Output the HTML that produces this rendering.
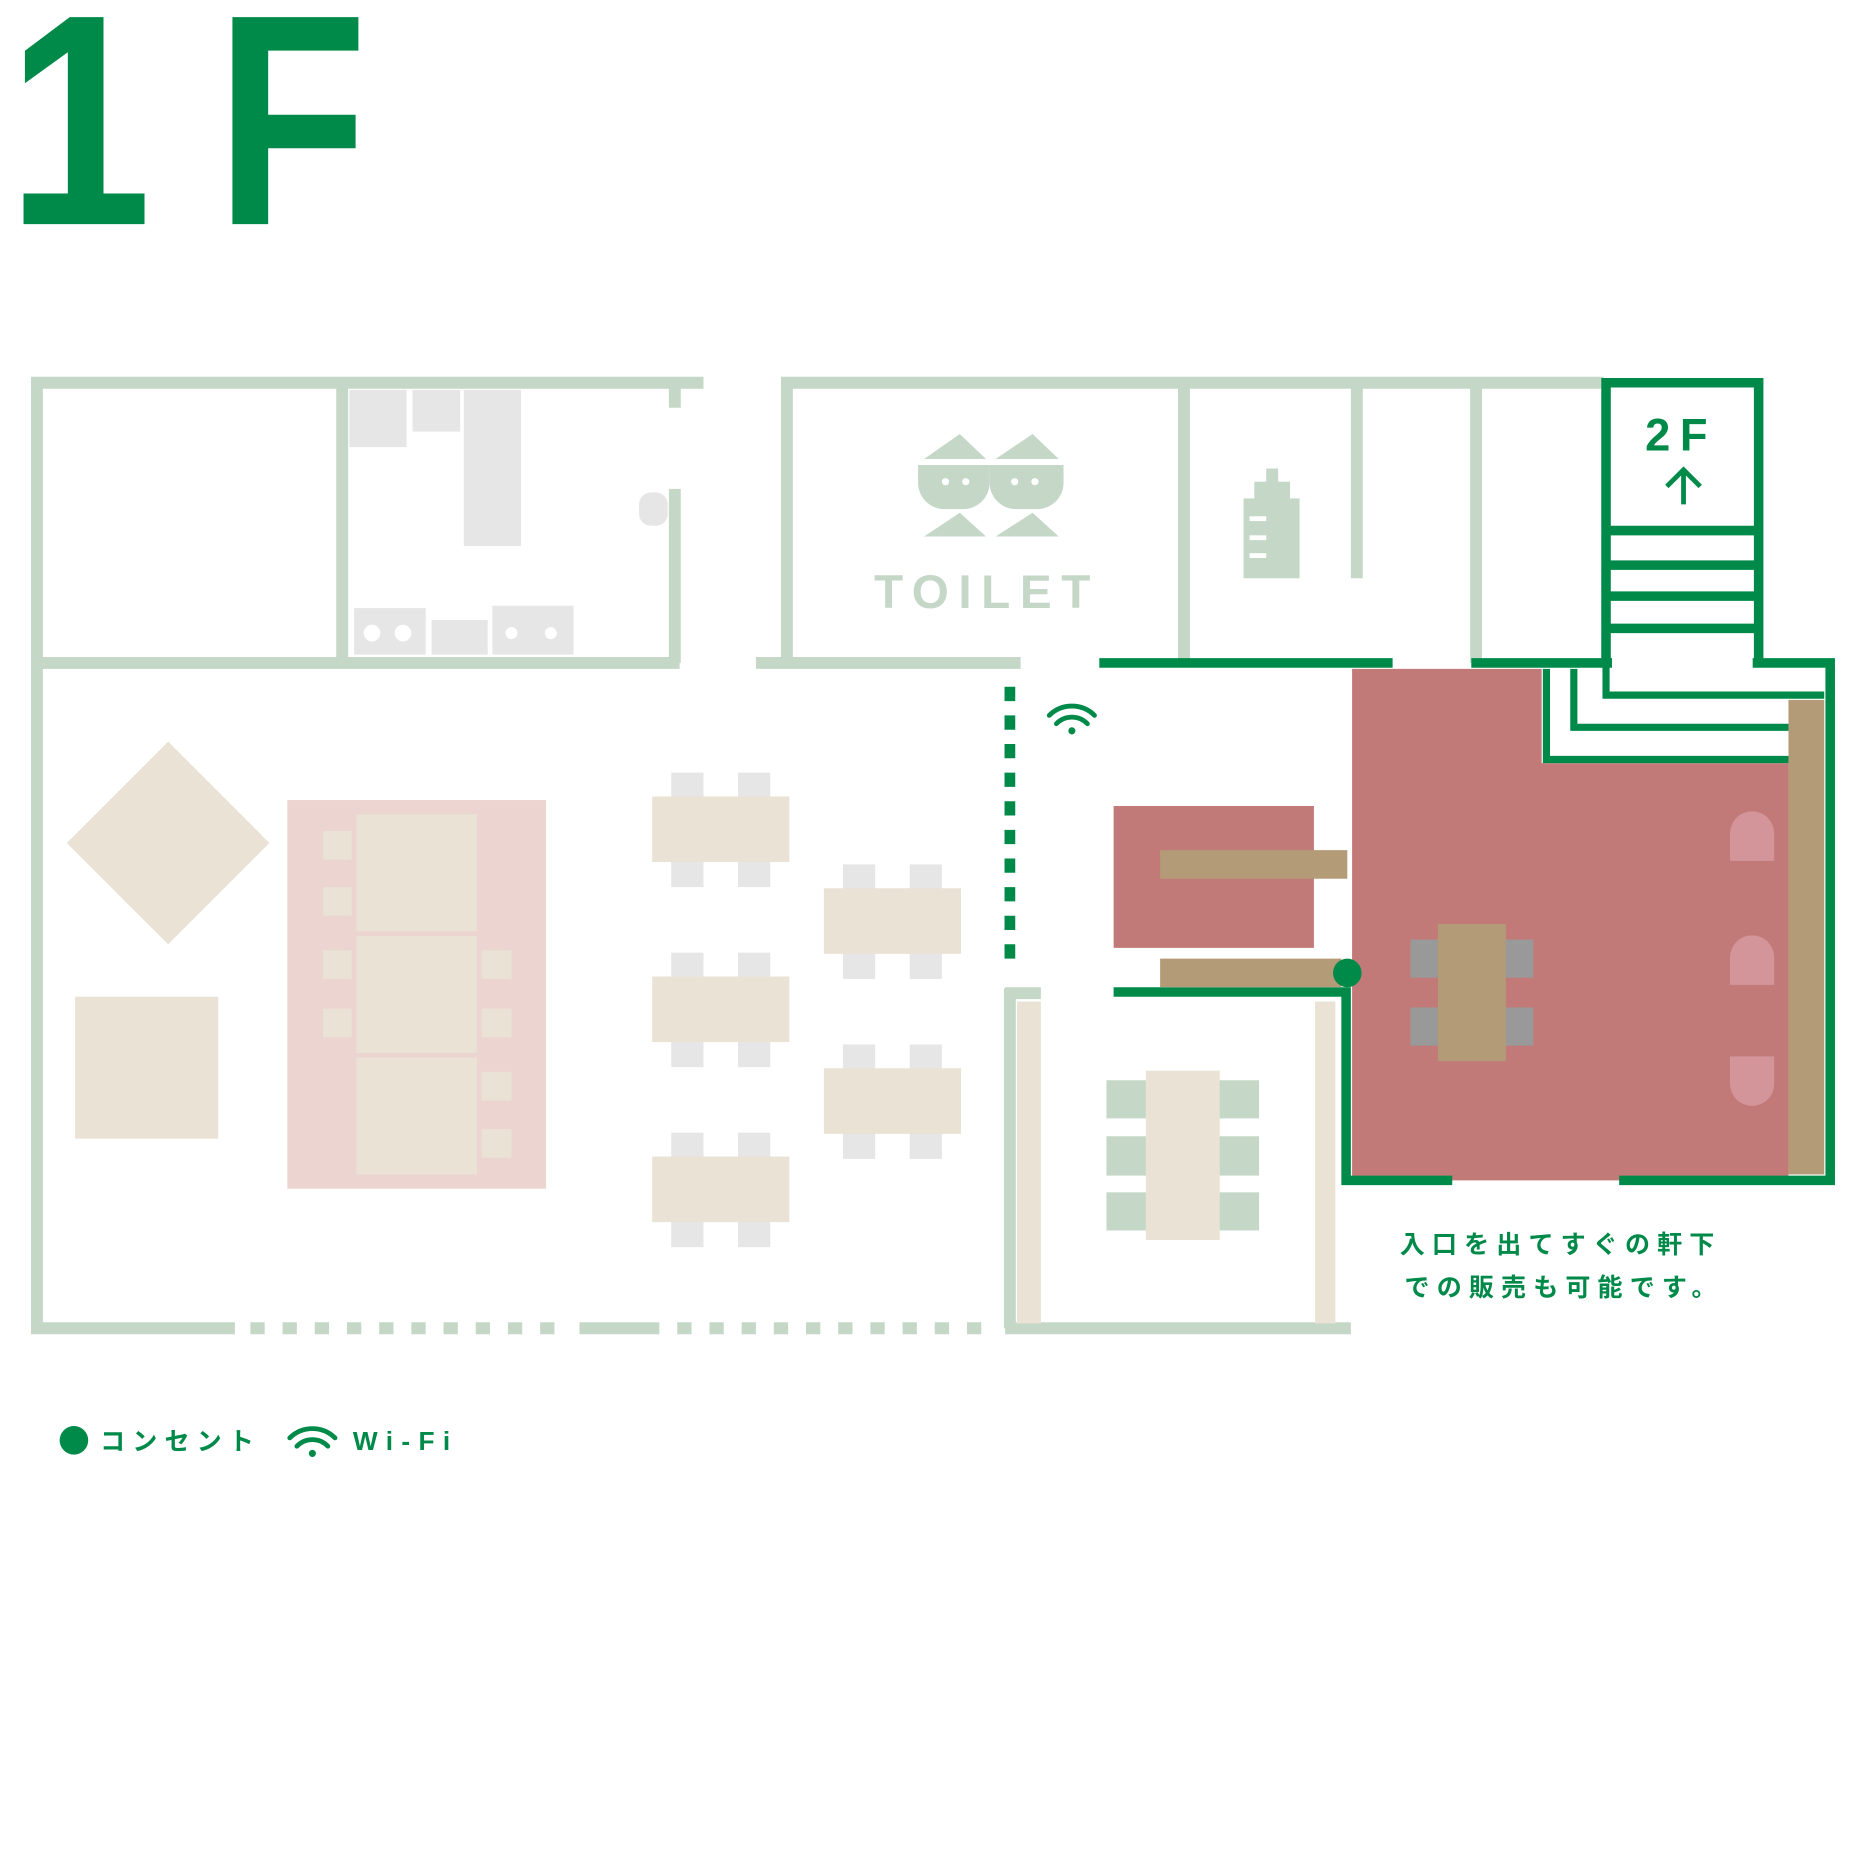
<!DOCTYPE html>
<html><head><meta charset="utf-8"><style>html,body{margin:0;padding:0;background:#fff}svg{display:block}</style></head>
<body>
<svg width="1860" height="1860" viewBox="0 0 1560 1560" xmlns="http://www.w3.org/2000/svg" font-family="Liberation Sans, Noto Sans CJK JP, sans-serif">
<text transform="translate(6,188) scale(0.89,1.03)" font-size="245" font-weight="bold" fill="#008a4a">1</text>
<text transform="translate(181,188) scale(0.85,1.03)" font-size="245" font-weight="bold" fill="#008a4a">F</text>
<g fill="none" stroke="#c5d8c8" stroke-width="10">
<path d="M26 321H590M31 316V1118M31 556H570M287 321V556M566 410V556M566 321V342"/>
<path d="M26 1114H197M486 1114H553M843 1114H1133M847 829V1114M843 833H873"/>
<path d="M210 1114H470M568 1114H828" stroke-dasharray="12 15"/>
<path d="M655 321H1345M660 321V556M634 556H856M993 321V556M1138 321V485M1238 321V556"/>
</g>
<g fill="#e6e6e6"><rect x="293" y="327" width="48" height="48"/><rect x="346" y="327" width="40" height="35"/><rect x="389" y="327" width="48" height="131"/><rect x="297" y="510" width="60" height="39"/><rect x="362" y="520" width="47" height="29"/><rect x="413" y="508" width="68" height="41"/></g>
<g fill="#fff"><circle cx="312" cy="531" r="7"/><circle cx="338" cy="531" r="7"/><circle cx="429" cy="531" r="5"/><circle cx="462" cy="531" r="5"/></g>
<rect x="536" y="413" width="24" height="28" rx="10" fill="#e6e6e6"/>
<g fill="#c5d8c8"><path d="M775 385L805 364L827 385ZM835 385L866 364L888 385ZM775 450L805 430L827 450ZM835 450L866 430L888 450Z"/>
<path d="M770 390H830V405A22 22 0 0 1 808 427H792A22 22 0 0 1 770 405Z"/><path d="M830 390H892V405A22 22 0 0 1 870 427H852A22 22 0 0 1 830 405Z"/>
<rect x="1043" y="418" width="47" height="67"/><rect x="1052" y="404" width="30" height="16"/><rect x="1062" y="393" width="10" height="12"/></g>
<g fill="#fff"><circle cx="793" cy="404" r="3"/><circle cx="810" cy="404" r="3"/><circle cx="851" cy="404" r="3"/><circle cx="868" cy="404" r="3"/><rect x="1048" y="433" width="14" height="4"/><rect x="1048" y="449" width="14" height="4"/><rect x="1048" y="464" width="14" height="4"/></g>
<text x="733" y="510" font-size="40" font-weight="bold" fill="#c5d8c8" letter-spacing="8">TOILET</text>
<path d="M1134 561H1293V640H1500V990H1134Z" fill="#c27a78"/>
<rect x="1500" y="587" width="30" height="398" fill="#b39b78"/>
<g fill="none" stroke="#008a4a" stroke-width="6"><path d="M1297 561V637H1500M1320 561V610H1500M1347 556V583H1530"/></g>
<g fill="none" stroke="#008a4a" stroke-width="8"><path d="M1347 556V321H1475V556M1351 445H1471M1351 474H1471M1351 500H1471M1351 527H1471"/>
<path d="M922 556H1168M1234 556H1352M1470 556H1535V990H1358M1218 990H1129V832H934"/></g>
<path d="M847 576V812" stroke="#008a4a" stroke-width="9" stroke-dasharray="12 12" fill="none"/>
<text x="1410" y="378" font-size="38" font-weight="bold" fill="#008a4a" text-anchor="middle" letter-spacing="8">2F</text>
<path d="M1412 423V395M1398 408L1412 394L1426 408" stroke="#008a4a" stroke-width="4" fill="none"/>
<rect x="934" y="676" width="168" height="119" fill="#c27a78"/>
<rect x="973" y="713" width="157" height="24" fill="#b39b78"/><rect x="973" y="804" width="152" height="24" fill="#b39b78"/>
<circle cx="1130" cy="816" r="12" fill="#008a4a"/>
<rect x="853" y="840" width="20" height="270" fill="#e9e2d5"/><rect x="1103" y="840" width="17" height="270" fill="#e9e2d5"/>
<g fill="#c5d8c8"><rect x="928" y="906" width="128" height="32"/><rect x="928" y="953" width="128" height="33"/><rect x="928" y="1000" width="128" height="32"/></g>
<rect x="961" y="898" width="62" height="142" fill="#e9e2d5"/>
<g fill="#999"><rect x="1183" y="788" width="103" height="32"/><rect x="1183" y="845" width="103" height="32"/></g>
<rect x="1206" y="775" width="57" height="115" fill="#b39b78"/>
<g fill="#d4959a"><path d="M1451 722V699A18.5 18.5 0 0 1 1488 699V722Z"/><path d="M1451 826V803A18.5 18.5 0 0 1 1488 803V826Z"/><path d="M1451 886H1488V909A18.5 18.5 0 0 1 1451 909Z"/></g>
<path d="M141 622L226 707L141 792L56 707Z" fill="#e9e2d5"/>
<rect x="63" y="836" width="120" height="119" fill="#e9e2d5"/>
<rect x="241" y="671" width="217" height="326" fill="#ecd5d0"/>
<g fill="#e9e2d5"><rect x="299" y="683" width="101" height="98"/><rect x="299" y="785" width="101" height="98"/><rect x="299" y="887" width="101" height="98"/>
<rect x="271" y="697" width="24" height="24"/><rect x="271" y="744" width="24" height="24"/><rect x="271" y="797" width="24" height="24"/><rect x="271" y="846" width="24" height="24"/>
<rect x="404" y="797" width="25" height="24"/><rect x="404" y="846" width="25" height="24"/><rect x="404" y="899" width="25" height="24"/><rect x="404" y="947" width="25" height="24"/></g>
<g id="t"><g fill="#e6e6e6"><rect x="563" y="648" width="27" height="96"/><rect x="619" y="648" width="27" height="96"/></g><rect x="547" y="668" width="115" height="55" fill="#e9e2d5"/></g>
<use href="#t" y="151"/><use href="#t" y="302"/><use href="#t" x="144" y="77"/><use href="#t" x="144" y="228"/>
<g id="w" fill="none" stroke="#008a4a" stroke-width="4" stroke-linecap="round"><path d="M880 600A27 27 0 0 1 918 600M886 607A18 18 0 0 1 912 607"/><circle cx="899" cy="613" r="3" fill="#008a4a" stroke="none"/></g>
<use href="#w" x="-637" y="606"/>
<circle cx="62" cy="1208" r="12" fill="#008a4a"/>
<g fill="#008a4a" font-weight="bold" font-size="21" letter-spacing="6">
<text x="84" y="1216">コンセント</text><text x="296" y="1216" font-size="22" letter-spacing="7">Wi-Fi</text>
<text x="1174" y="1051">入口を出てすぐの軒下</text><text x="1178" y="1087">での販売も可能です。</text></g>
</svg>
</body></html>
